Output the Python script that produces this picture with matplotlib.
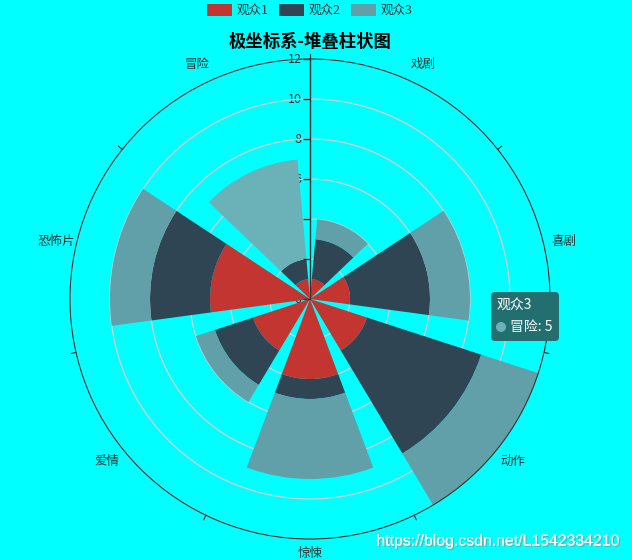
import numpy as np
import matplotlib
matplotlib.use('Agg')
import matplotlib.pyplot as plt
import matplotlib.patheffects as pe
from matplotlib.patches import FancyBboxPatch, Circle, Patch
from matplotlib.transforms import offset_copy, IdentityTransform

plt.rcParams['font.family'] = ['Noto Sans CJK SC', 'DejaVu Sans']

# data (clockwise from the top)
categories = ['戏剧', '喜剧', '动作', '惊悚', '爱情', '恐怖片', '冒险']
series_names = ['观众1', '观众2', '观众3']
audience1 = [1, 2, 3, 4, 3, 5, 1]
audience2 = [2, 4, 6, 1, 2, 3, 1]
audience3 = [1, 2, 3, 4, 1, 2, 5]
radius_ticks = [0, 2, 4, 6, 8, 10, 12]
title = '极坐标系-堆叠柱状图'
watermark = 'https://blog.csdn.net/L1542334210'

colors = ['#c23531', '#2f4554', '#61a0a8']
hover_color = '#6ab1b8'
bg = '#00ffff'
W, H = 632, 560


def fx(x, y):
    # image pixel -> figure fraction
    return x / W, 1 - y / H


fig = plt.figure(figsize=(W / 100, H / 100), dpi=100, facecolor=bg)

# polar axes: centre (310, 299) px, radius 240 px
cx, cy, R = 310, 299, 240
l, b = fx(cx - R, cy + R)
ax = fig.add_axes([l, b, 2 * R / W, 2 * R / H], projection='polar')
ax.set_facecolor('none')
ax.set_theta_zero_location('N')
ax.set_theta_direction(-1)
ax.set_ylim(0, 12)

n = len(categories)
band = 2 * np.pi / n
centers = (np.arange(n) + 0.5) * band
bounds = np.arange(n) * band

ax.set_xticks(bounds)
ax.set_xticklabels([])
ax.xaxis.grid(False)
ax.set_yticks(radius_ticks[1:])
ax.set_yticklabels([])
ax.yaxis.grid(True, color='#cccccc', lw=1)
ax.tick_params(length=0)
ax.spines['polar'].set_color('#333333')
ax.spines['polar'].set_linewidth(0.8)

series = [audience1, audience2, audience3]
bottom = np.zeros(n)
all_bars = []
for name, vals, c in zip(series_names, series, colors):
    bars = ax.bar(centers, vals, width=band * 0.8, bottom=bottom, color=c,
                  edgecolor='none', label=name, zorder=2)
    all_bars.append(bars)
    bottom = bottom + np.array(vals)

# hovered bar (观众3 / 冒险)
all_bars[2][6].set_facecolor(hover_color)

# radius axis line, ticks and labels
ax.plot([0, 0], [0, 12], color='#333333', lw=1, zorder=3, clip_on=False)
ax.plot([0] * len(radius_ticks), radius_ticks, linestyle='none', marker=0,
        markersize=5, color='#333333', zorder=3, clip_on=False)
lab_tr = offset_copy(ax.transData, fig=fig, x=-6, y=0, units='points')
for r in radius_ticks:
    ax.text(0, r, str(r), transform=lab_tr, ha='right', va='center',
            fontsize=9, color='#333333', zorder=1)

# angle axis ticks at band boundaries
for t in bounds:
    ax.plot([t, t], [12, 12.25], color='#333333', lw=0.8, clip_on=False)

# category labels
for t, cat in zip(centers, categories):
    if np.cos(t) < -0.9:
        ax.text(t, 12.4, cat, ha='center', va='top', fontsize=9,
                color='#333333')
    else:
        ax.text(t, 13.0, cat, ha='center', va='center', fontsize=9,
                color='#333333')

# title
tx, ty = fx(310, 42)
fig.text(tx, ty, title, ha='center', va='center', fontsize=12.5,
         fontweight='bold', color='black')

# legend
handles = [Patch(facecolor=c, edgecolor='none') for c in colors]
fig.legend(handles, series_names, loc='upper center', ncol=3, frameon=False,
           bbox_to_anchor=(0.49, 1.013), fontsize=9, handlelength=2.0,
           handleheight=1.1, handletextpad=0.4, columnspacing=0.8,
           labelcolor='#333333')

# tooltip
tip = FancyBboxPatch((491, H - 341), 68, 49, boxstyle='round,pad=0,rounding_size=4',
                     transform=IdentityTransform(), facecolor='#236f6f',
                     edgecolor='none')
fig.add_artist(tip)
x1, y1 = fx(497, 306)
fig.text(x1, y1, series_names[2], ha='left', va='center', fontsize=10,
         color='white')
dot = Circle((501, H - 327), 5, transform=IdentityTransform(),
             facecolor=hover_color, edgecolor='none')
fig.add_artist(dot)
x2, y2 = fx(510, 327)
fig.text(x2, y2, f'{categories[6]}: {audience3[6]}', ha='left', va='center',
         fontsize=10, color='white')

# watermark
wx, wy = fx(620, 541)
fig.text(wx, wy, watermark, ha='right', va='center', fontsize=11.4,
         family=['Liberation Sans', 'DejaVu Sans'], color='white',
         path_effects=[pe.withSimplePatchShadow(offset=(1, -1),
                                                shadow_rgbFace='#888888',
                                                alpha=0.6), pe.Normal()])

plt.savefig('out.png', dpi=100, facecolor=bg)
